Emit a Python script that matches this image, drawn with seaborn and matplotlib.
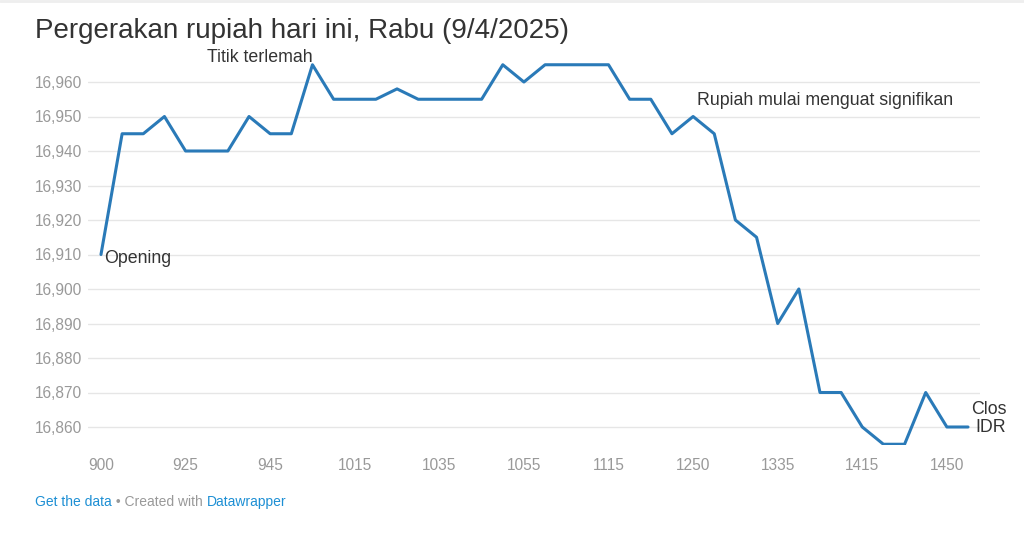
import matplotlib
matplotlib.use("Agg")
import matplotlib.pyplot as plt
import seaborn as sns
import pandas as pd

# Kurs rupiah per dolar AS, tiap titik waktu (urutan intraday)
rates = [16910, 16945, 16945, 16950, 16940, 16940, 16940, 16950, 16945, 16945,
         16965, 16955, 16955, 16955, 16958, 16955, 16955, 16955, 16955, 16965,
         16960, 16965, 16965, 16965, 16965, 16955, 16955, 16945, 16950, 16945,
         16920, 16915, 16890, 16900, 16870, 16870, 16860, 16855, 16855, 16870,
         16860, 16860]
tick_labels = ["900", "925", "945", "1015", "1035", "1055", "1115",
               "1250", "1335", "1415", "1450"]
y_ticks = [16860, 16870, 16880, 16890, 16900, 16910, 16920, 16930, 16940, 16950, 16960]

W, H = 1024, 533
LINE = "#2a7ab8"
TEXT = "#333333"
GRAY = "#999999"
ANN = 12.8


def main():
    df = pd.DataFrame({"step": range(len(rates)), "rate": rates})

    sns.set_style("white")
    plt.rcParams["font.family"] = ["Liberation Sans", "DejaVu Sans"]

    fig = plt.figure(figsize=(W / 100, H / 100), dpi=100)
    # axes box in pixels: x 88..980, y 60..445
    ax = fig.add_axes([88 / W, 1 - 445 / H, (980 - 88) / W, (445 - 60) / H])

    px = 21.17
    ax.set_xlim(-(101 - 88) / px, len(rates) - 1 + (980 - 968) / px)
    ax.set_ylim(16860 - (445 - 427) / 3.45, 16960 + (82 - 60) / 3.45)

    for v in y_ticks:
        ax.axhline(v, color="#e6e6e6", lw=1, zorder=0)

    sns.lineplot(data=df, x="step", y="rate", ax=ax, color=LINE, lw=2.2, zorder=3)

    ax.set_yticks(y_ticks)
    ax.set_yticklabels([f"{v:,}" for v in y_ticks], color=GRAY, fontsize=11.2)
    ax.set_xticks(range(0, len(rates), 4))
    ax.set_xticklabels(tick_labels, color=GRAY, fontsize=11.2)
    ax.tick_params(length=0)
    ax.tick_params(axis="y", pad=4)
    ax.tick_params(axis="x", pad=9)
    ax.set_xlabel("")
    ax.set_ylabel("")
    for s in ax.spines.values():
        s.set_visible(False)

    # annotations
    ax.annotate("Opening", xy=(0, rates[0]), xytext=(3, -4), textcoords="offset pixels",
                ha="left", va="center", fontsize=ANN, color=TEXT)
    ax.annotate("Titik terlemah", xy=(10, rates[10]), xytext=(0, 7), textcoords="offset pixels",
                ha="right", va="center", fontsize=ANN, color=TEXT)
    ax.annotate("Rupiah mulai menguat signifikan", xy=(28, rates[28]), xytext=(4, 16),
                textcoords="offset pixels", ha="left", va="center", fontsize=ANN, color=TEXT)

    fig.text(1007 / W, 1 - 410 / H, "Clos", ha="right", va="center", fontsize=ANN, color=TEXT)
    fig.text(1006 / W, 1 - 428 / H, "IDR", ha="right", va="center", fontsize=ANN, color=TEXT)

    fig.text(35 / W, 1 - 31 / H, "Pergerakan rupiah hari ini, Rabu (9/4/2025)",
             ha="left", va="center", fontsize=20, color=TEXT)

    t1 = fig.text(35 / W, 1 - 502 / H, "Get the data", ha="left", va="center",
                  fontsize=10, color="#1d8fd4")
    fig.canvas.draw()
    bb = t1.get_window_extent()
    t2 = fig.text(bb.x1 / W, 1 - 502 / H, " \u2022 Created with ", ha="left", va="center",
                  fontsize=10, color=GRAY)
    fig.canvas.draw()
    bb = t2.get_window_extent()
    fig.text(bb.x1 / W, 1 - 502 / H, "Datawrapper", ha="left", va="center",
             fontsize=10, color="#1d8fd4")

    fig.add_artist(plt.Line2D([0, 1], [1 - 1 / H, 1 - 1 / H], color="#eeeeee", lw=2))

    fig.savefig("out.png", dpi=100)


if __name__ == "__main__":
    main()
